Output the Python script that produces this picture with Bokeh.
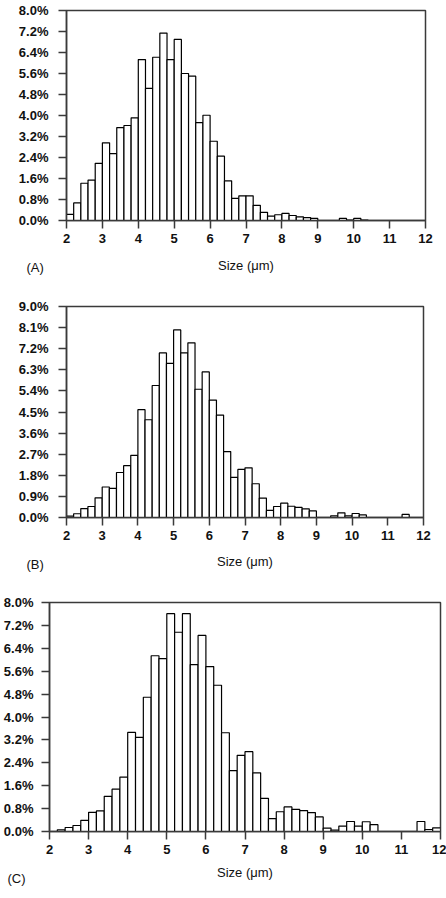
from bokeh.plotting import figure
from bokeh.models import Range1d, FixedTicker, PrintfTickFormatter, Label, ColumnDataSource
from bokeh.embed import file_html
from bokeh.resources import INLINE

# ---- data -------------------------------------------------------------
bin_left = [round(2.0 + 0.2 * i, 1) for i in range(50)]   # bin starts (um)
bin_width = 0.2

pct_a = [0.23, 0.67, 1.42, 1.54, 2.18, 2.96, 2.55, 3.54, 3.62, 3.91,
         6.13, 5.03, 6.22, 7.14, 6.13, 6.90, 5.60, 5.50, 3.73, 4.01,
         3.02, 2.45, 1.51, 0.84, 0.94, 0.94, 0.58, 0.31, 0.17, 0.22,
         0.27, 0.19, 0.14, 0.11, 0.08, 0.0, 0.0, 0.0, 0.08, 0.02,
         0.08, 0.02, 0.0, 0.0, 0.0, 0.0, 0.0, 0.0, 0.0, 0.0]

pct_b = [0.06, 0.16, 0.38, 0.47, 0.84, 1.30, 1.24, 1.92, 2.21, 2.65,
         4.60, 4.17, 5.63, 7.02, 6.57, 8.00, 7.02, 7.45, 5.47, 6.21,
         5.01, 4.37, 2.81, 1.71, 2.05, 2.12, 1.44, 0.83, 0.30, 0.47,
         0.61, 0.48, 0.43, 0.37, 0.28, 0.0, 0.0, 0.07, 0.20, 0.07,
         0.17, 0.11, 0.0, 0.0, 0.0, 0.0, 0.0, 0.13, 0.0, 0.0]

pct_c = [0.0, 0.06, 0.14, 0.21, 0.39, 0.67, 0.72, 1.23, 1.48, 1.90,
         3.46, 3.29, 4.69, 6.14, 6.04, 7.61, 6.96, 7.61, 5.83, 6.85,
         5.76, 5.11, 3.45, 2.13, 2.66, 2.79, 2.05, 1.16, 0.45, 0.69,
         0.86, 0.77, 0.73, 0.66, 0.51, 0.12, 0.05, 0.19, 0.35, 0.19,
         0.34, 0.24, 0.0, 0.0, 0.0, 0.0, 0.0, 0.35, 0.07, 0.13]

x_ticks = [2, 3, 4, 5, 6, 7, 8, 9, 10, 11, 12]
y_ticks_a = [0.0, 0.8, 1.6, 2.4, 3.2, 4.0, 4.8, 5.6, 6.4, 7.2, 8.0]
y_ticks_b = [0.0, 0.9, 1.8, 2.7, 3.6, 4.5, 5.4, 6.3, 7.2, 8.1, 9.0]
y_ticks_c = [0.0, 0.8, 1.6, 2.4, 3.2, 4.0, 4.8, 5.6, 6.4, 7.2, 8.0]
panel_names = ["(A)", "(B)", "(C)"]
x_title = "Size (\u03bcm)"

FONT = "Liberation Sans"
FRAME = "#3a3a3a"


def make_panel(values, yticks, name, width, height, bl, br, bt, bb,
               y_standoff, xlab_standoff, lab_dx, lab_y):
    p = figure(width=width, height=height, output_backend="svg", toolbar_location=None,
               x_range=Range1d(2, 12), y_range=Range1d(yticks[0], yticks[-1]),
               min_border_left=bl, min_border_right=br, min_border_top=bt,
               min_border_bottom=bb)
    p.background_fill_color = "white"
    p.border_fill_color = "white"
    p.outline_line_color = FRAME
    p.outline_line_width = 1.5
    p.xgrid.visible = False
    p.ygrid.visible = False

    left = [b for b, v in zip(bin_left, values) if v > 0]
    right = [b + bin_width for b, v in zip(bin_left, values) if v > 0]
    top = [v for v in values if v > 0]
    src = ColumnDataSource(dict(left=left, right=right, top=top))
    p.quad(left="left", right="right", top="top", bottom=0, source=src,
           fill_color="white", line_color="black", line_width=1.2)

    for ax in (p.xaxis[0], p.yaxis[0]):
        ax.axis_line_color = FRAME
        ax.axis_line_width = 1.5
        ax.major_tick_line_color = FRAME
        ax.major_tick_line_width = 1.5
        ax.major_tick_in = 0
        ax.major_tick_out = 8
        ax.minor_tick_line_color = None
        ax.major_label_text_font = FONT
        ax.major_label_text_font_size = "13px"
        ax.major_label_text_font_style = "bold"
        ax.major_label_text_color = "#111111"

    p.xaxis.ticker = FixedTicker(ticks=x_ticks)
    p.xaxis.major_label_standoff = 5
    p.xaxis.axis_label = x_title
    p.xaxis.axis_label_text_font = FONT
    p.xaxis.axis_label_text_font_size = "13px"
    p.xaxis.axis_label_text_font_style = "normal"
    p.xaxis.axis_label_text_color = "#111111"
    p.xaxis.axis_label_standoff = xlab_standoff

    p.yaxis.ticker = FixedTicker(ticks=yticks)
    p.yaxis.formatter = PrintfTickFormatter(format="%.1f%%")
    p.yaxis.major_label_standoff = y_standoff

    lab = Label(x=lab_dx, y=lab_y, x_units="screen", y_units="screen", text=name,
                text_font=FONT, text_font_size="13px", text_color="#111111",
                text_align="left", text_baseline="middle")
    p.add_layout(lab, "below")
    return p


pa = make_panel(pct_a, y_ticks_a, panel_names[0], 446, 290, 66, 21, 10, 70, 10, 12, -40, 23)
pb = make_panel(pct_b, y_ticks_b, panel_names[1], 446, 297, 66, 23, 16, 70, 10, 11, -40, 22)
pc = make_panel(pct_c, y_ticks_c, panel_names[2], 446, 311, 49, 6, 15, 67, 8, 8, -42, 19)

open("out.html", "w").write(file_html([pa, pb, pc], INLINE))
